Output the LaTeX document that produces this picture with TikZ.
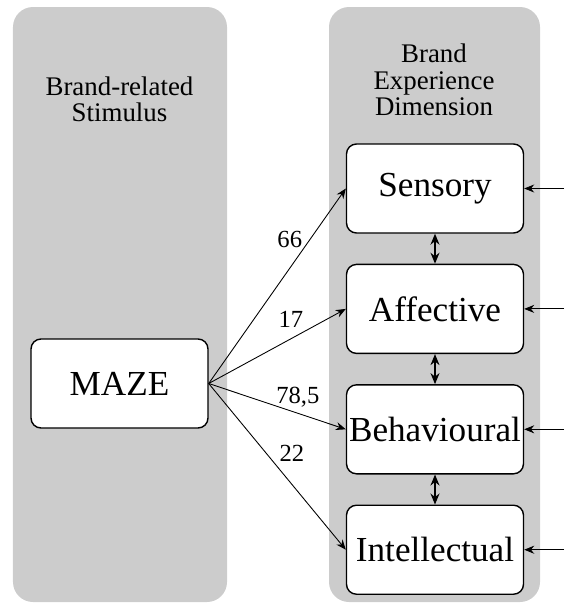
\documentclass[tikz,border=0pt]{standalone}
\usepackage{fontspec}
\setmainfont{Liberation Serif}
\newfontfamily\timesfont{Liberation Serif}
\usepackage{tikz}
\usetikzlibrary{arrows.meta, positioning}

\begin{document}
\begin{tikzpicture}[
    node distance=0.6cm,
    panel/.style={
        fill=black!20,
        draw=none,
        rounded corners=0.4cm
    },
    dimbox/.style={
        rectangle,
        rounded corners=0.2cm,
        minimum width=3.54cm,
        minimum height=1.78cm,
        draw=black,
        line width=0.8pt,
        fill=white,
        font=\timesfont\fontsize{20}{22}\selectfont
    },
    heading/.style={
        align=center,
        font=\timesfont\fontsize{15.3}{15}\selectfont
    },
    weight/.style={
        font=\timesfont\fontsize{14}{15}\selectfont
    },
    myarrow/.style={
        -{Stealth[length=2mm, width=1.6mm]},
        line width=0.5pt
    },
    linkarrow/.style={
        {Stealth[length=2.2mm, width=1.8mm]}-{Stealth[length=2.2mm, width=1.8mm]},
        line width=0.7pt
    }
]
\useasboundingbox (0,0) rectangle (11.28,-12.06);

% the two grey columns
\fill[panel] (0.26,-0.14) rectangle (4.54,-12.04);
\fill[panel] (6.58,-0.14) rectangle (10.8,-12.04);

\node (stimtitle) [heading] at (2.39,-1.98) {Brand-related\\Stimulus};
\node (dimtitle) [heading] at (8.68,-1.6) {Brand\\Experience\\Dimension};

\node (maze) [dimbox] at (2.39,-7.67) {MAZE};

\node (sensory) [dimbox] at (8.7,-3.77) {Sensory};
\node (affective) [dimbox, below=of sensory] {Affective};
\node (behavioural) [dimbox, below=of affective, inner sep=1pt] {Behavioural};
\node (intellectual) [dimbox, below=of behavioural] {Intellectual};

\draw [myarrow] (maze.east) -- node[pos=0.74, left=1pt, weight] {66} (sensory.west);
\draw [myarrow] (maze.east) -- node[pos=0.6, above=3pt, weight] {17} (affective.west);
\draw [myarrow] (maze.east) -- node[pos=0.65, above=0pt, weight] {78,5} (behavioural.west);
\draw [myarrow] (maze.east) -- node[pos=0.42, right=4pt, weight] {22} (intellectual.west);

\draw [linkarrow] (sensory) -- (affective);
\draw [linkarrow] (affective) -- (behavioural);
\draw [linkarrow] (behavioural) -- (intellectual);

% inputs from the right edge
\foreach \b in {sensory, affective, behavioural, intellectual} {
    \coordinate (\b-in) at (11.28,0 |- \b.east);
    \draw [myarrow] (\b-in) -- (\b.east);
}
\end{tikzpicture}
\end{document}
